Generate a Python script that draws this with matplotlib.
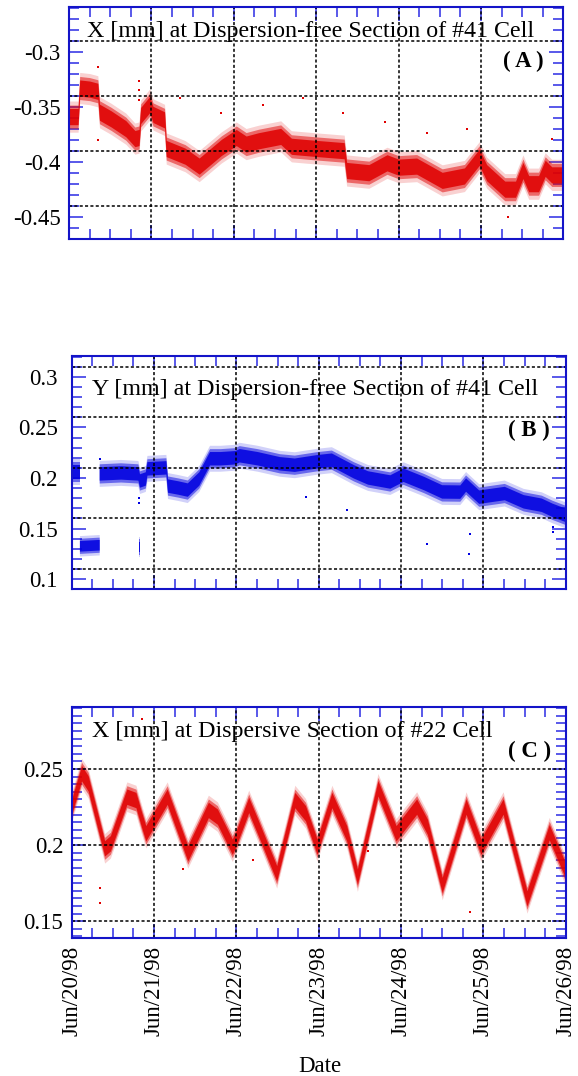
import numpy as np
import matplotlib
matplotlib.use("Agg")
import matplotlib.pyplot as plt
from matplotlib.ticker import MultipleLocator

plt.rcParams['font.family'] = ['Liberation Serif', 'DejaVu Serif']

# ---------------- data (time in days since Jun/20/98 00:00) ----------------
date_labels = ["Jun/20/98", "Jun/21/98", "Jun/22/98", "Jun/23/98",
               "Jun/24/98", "Jun/25/98", "Jun/26/98"]

# Panel A : X [mm] at dispersion-free section of #41 cell (band centre / half width)
tA = [0.00, 0.11, 0.13, 0.25, 0.35, 0.37, 0.51, 0.69, 0.80, 0.85, 0.87, 0.98, 1.02,
      1.16, 1.18, 1.41, 1.58, 1.85, 2.03, 2.15, 2.30, 2.57, 2.70, 3.01, 3.34, 3.37,
      3.64, 3.86, 4.00, 4.22, 4.53, 4.80, 4.98, 5.07, 5.29, 5.42, 5.51, 5.58, 5.70,
      5.78, 5.86, 6.00]
cA = [-0.359, -0.359, -0.333, -0.334, -0.336, -0.355, -0.361, -0.370, -0.379, -0.378,
      -0.358, -0.348, -0.357, -0.362, -0.388, -0.395, -0.404, -0.387, -0.378, -0.384,
      -0.381, -0.377, -0.386, -0.388, -0.390, -0.408, -0.410, -0.401, -0.405, -0.404,
      -0.417, -0.413, -0.396, -0.410, -0.425, -0.425, -0.408, -0.420, -0.420, -0.406,
      -0.412, -0.412]
wA = 0.0105
tA_out = [0.357, 0.357, 0.85, 0.85, 0.85, 1.35, 1.85, 2.35, 2.84, 3.33, 3.84, 4.34, 4.83, 5.86, 5.33]
vA_out = [-0.314, -0.380, -0.327, -0.335, -0.344, -0.342, -0.356, -0.348, -0.342, -0.356,
          -0.364, -0.374, -0.370, -0.379, -0.450]

# Panel B : Y [mm] at dispersion-free section of #41 cell
tB = [0.00, 0.10, 0.22, 0.34, 0.60, 0.81, 0.83, 0.90, 0.92, 1.15, 1.17, 1.30, 1.41,
      1.55, 1.68, 1.81, 1.99, 2.04, 2.26, 2.53, 2.71, 2.98, 3.16, 3.43, 3.60, 3.87,
      4.03, 4.28, 4.50, 4.72, 4.79, 4.95, 5.26, 5.49, 5.71, 5.84, 6.00]
cB = [0.206, 0.206, np.nan, 0.204, 0.205, 0.204, 0.197, 0.199, 0.209, 0.210, 0.192,
      0.190, 0.188, 0.199, 0.219, 0.219, 0.220, 0.222, 0.219, 0.214, 0.2126, 0.216,
      0.2176, 0.206, 0.200, 0.196, 0.2027, 0.1945, 0.1862, 0.186, 0.193, 0.181,
      0.1846, 0.1764, 0.173, 0.168, 0.163]
wB = 0.0095
tB_low = [0.10, 0.34, 0.50, 0.815, 0.825]
cB_low = [0.1324, 0.1335, np.nan, 0.1318, 0.1318]
wB_low = 0.0075
tB_out = [0.34, 0.82, 4.84, 4.82, 5.84, 5.84, 4.32, 2.84, 3.34, 0.82]
vB_out = [0.219, 0.175, 0.145, 0.125, 0.152, 0.147, 0.135, 0.181, 0.168, 0.180]

# Panel C : X [mm] at dispersive section of #22 cell
tC = [0.00, 0.12, 0.20, 0.40, 0.47, 0.67, 0.78, 0.85, 0.90, 1.16, 1.41, 1.66, 1.77,
      1.95, 1.99, 2.15, 2.26, 2.49, 2.71, 2.84, 2.98, 3.16, 3.34, 3.47, 3.72, 3.94,
      4.19, 4.32, 4.50, 4.79, 4.97, 5.24, 5.53, 5.80, 6.00]
cC = [0.2253, 0.2472, 0.2406, 0.1979, 0.2012, 0.2318, 0.2296, 0.2165, 0.2078, 0.2318,
      0.1946, 0.2231, 0.2187, 0.1990, 0.2034, 0.2264, 0.2121, 0.1815, 0.2296, 0.2209,
      0.1990, 0.2296, 0.2078, 0.1793, 0.2373, 0.2078, 0.2253, 0.2121, 0.1738, 0.2253,
      0.1990, 0.2253, 0.1650, 0.2085, 0.1830]
wC = 0.0072
tC_out = [0.34, 0.34, 0.85, 4.84, 1.35, 2.20, 3.60]
vC_out = [0.172, 0.162, 0.283, 0.156, 0.184, 0.190, 0.196]

# ---------------- styling helpers ----------------
RED = '#e00000'
BLUE = '#0000e0'
SPINE = '#1414c8'
TICKC = '#3c3ce6'

fig = plt.figure(figsize=(5.78, 10.76), dpi=100)


def px_axes(l, r, t, b):
    return fig.add_axes([l / 578, 1 - b / 1076, (r - l) / 578, (b - t) / 1076])


def style(ax, ylim, major, majlabels, minor, hgrid, ypad, xlabels):
    ax.set_xlim(0, 6)
    ax.set_ylim(*ylim)
    ax.set_xticks(range(7))
    ax.xaxis.set_minor_locator(MultipleLocator(0.25))
    ax.set_yticks(major)
    ax.set_yticklabels(majlabels)
    ax.yaxis.set_minor_locator(MultipleLocator(minor))
    ax.tick_params(which='both', direction='in', top=True, right=True,
                   color=TICKC, width=1.2, labelsize=16.5)
    ax.tick_params(which='major', length=10)
    ax.tick_params(which='minor', length=7)
    ax.tick_params(axis='y', pad=ypad)
    if xlabels:
        ax.set_xticklabels(date_labels, rotation=90, fontsize=16.5)
        ax.tick_params(axis='x', pad=6)
    else:
        ax.tick_params(axis='x', labelbottom=False)
    for s in ax.spines.values():
        s.set_color(SPINE)
        s.set_linewidth(1.5)
        s.set_zorder(6)
    for v in range(1, 6):
        ax.axvline(v, color='k', ls=(0, (2, 1.5)), lw=1.1, zorder=5)
    for h in hgrid:
        ax.axhline(h, color='k', ls=(0, (2, 1.5)), lw=1.1, zorder=5)


def band(ax, t, c, w, color):
    t = np.asarray(t, float)
    c = np.asarray(c, float)
    ax.fill_between(t, c - 1.35 * w, c + 1.35 * w, color=color, alpha=0.18, lw=0, zorder=2)
    ax.fill_between(t, c - w, c + w, color=color, alpha=0.5, lw=0, zorder=3)
    ax.fill_between(t, c - 0.7 * w, c + 0.7 * w, color=color, alpha=0.85, lw=0, zorder=3)


# ---------------- Panel A ----------------
axA = px_axes(69, 563.3, 7.3, 239)
band(axA, tA, cA, wA, RED)
axA.scatter(tA_out, vA_out, s=3, color=RED, marker='s', lw=0, zorder=3)
style(axA, (-0.4703, -0.2596), [-0.45, -0.4, -0.35, -0.3],
      ['-0.45', '-0.4', '-0.35', '-0.3'], 0.01, [-0.29, -0.34, -0.39, -0.44], 6, False)
axA.text(0.036, 0.895, 'X [mm] at Dispersion-free Section of #41 Cell',
         transform=axA.transAxes, fontsize=17.3, ha='left', va='center', zorder=7)
axA.text(0.96, 0.765, '( A )', transform=axA.transAxes, fontsize=16.5,
         fontweight='bold', ha='right', va='center', zorder=7)

# ---------------- Panel B ----------------
axB = px_axes(71.7, 565.7, 356, 589)
band(axB, tB, cB, wB, BLUE)
band(axB, tB_low, cB_low, wB_low, BLUE)
axB.scatter(tB_out, vB_out, s=3, color=BLUE, marker='s', lw=0, zorder=3)
style(axB, (0.0902, 0.3206), [0.1, 0.15, 0.2, 0.25, 0.3],
      ['0.1', '0.15', '0.2', '0.25', '0.3'], 0.01, [0.31, 0.26, 0.21, 0.16, 0.11], 10, False)
axB.text(0.041, 0.858, 'Y [mm] at Dispersion-free Section of #41 Cell',
         transform=axB.transAxes, fontsize=17.3, ha='left', va='center', zorder=7)
axB.text(0.968, 0.682, '( B )', transform=axB.transAxes, fontsize=16.5,
         fontweight='bold', ha='right', va='center', zorder=7)

# ---------------- Panel C ----------------
axC = px_axes(71.7, 565.7, 706.7, 937.7)
band(axC, tC, cC, wC, RED)
axC.scatter(tC_out, vC_out, s=3, color=RED, marker='s', lw=0, zorder=3)
style(axC, (0.1392, 0.2909), [0.15, 0.2, 0.25], ['0.15', '0.2', '0.25'],
      0.005, [0.15, 0.2, 0.25], 6, True)
axC.text(0.042, 0.892, 'X [mm] at Dispersive Section of #22 Cell',
         transform=axC.transAxes, fontsize=17.3, ha='left', va='center', zorder=7)
axC.text(0.97, 0.805, '( C )', transform=axC.transAxes, fontsize=16.5,
         fontweight='bold', ha='right', va='center', zorder=7)

fig.text(320 / 578, 1 - 1066 / 1076, 'Date', fontsize=16.5, ha='center', va='center')

fig.savefig('out.png', dpi=100)
